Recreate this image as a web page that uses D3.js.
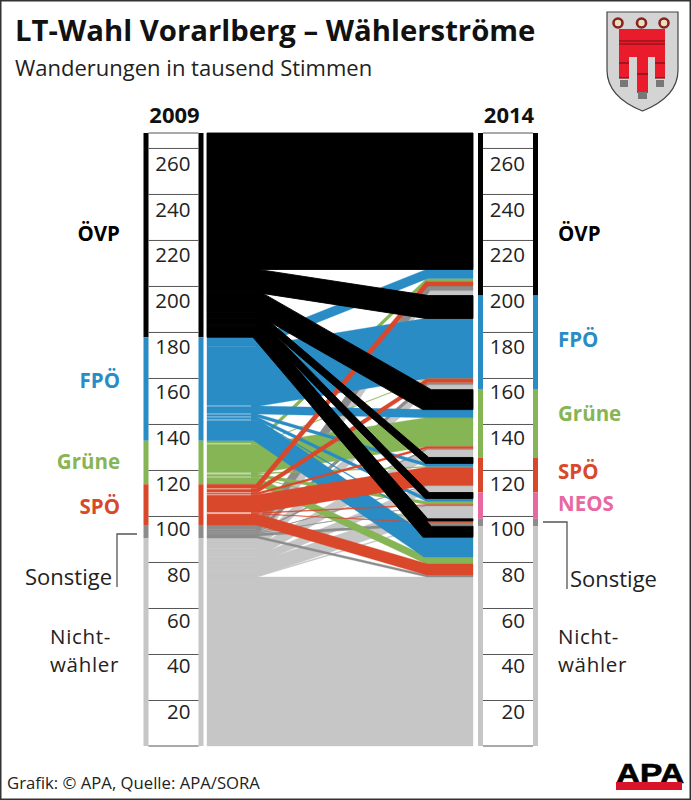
<!DOCTYPE html>
<html><head><meta charset="utf-8">
<script src="https://cdn.jsdelivr.net/npm/d3@7"></script>
<style>html,body{margin:0;background:#fff}svg{display:block}text{font-family:"Open Sans",sans-serif}</style>
</head><body><svg id="c" width="691" height="800"></svg>
<script>
const sources = ["ÖVP","FPÖ","Grüne","SPÖ","Sonstige","Nichtwähler"];
const targets = ["ÖVP","FPÖ","Grüne","SPÖ","NEOS","Sonstige","Nichtwähler"];
const fromOVP   = [59.6,10.0,8.7,2.6,2.6,0.9,4.8];
const fromFPO   = [3.9,26.1,3.5,1.3,1.3,0.4,8.7];
const fromGrune = [1.3,0.2,12.6,0.4,1.3,0.2,3.0];
const fromSPO   = [2.0,1.7,0.9,7.8,0.4,0.2,4.8];
const fromSonst = [2.0,0.9,0.4,0.2,0.2,1.1,0.9];
const fromNicht = [2.2,2.2,3.5,3.0,5.7,0.4,73.8];
const matrix = [fromOVP,fromFPO,fromGrune,fromSPO,fromSonst,fromNicht];
const tickValues = [20,40,60,80,100,120,140,160,180,200,220,240,260];
const colors = {"ÖVP":"#000000","FPÖ":"#2a8cc4","Grüne":"#86b556","SPÖ":"#d9482b","NEOS":"#e868a2","Sonstige":"#8c8c8c","Nichtwähler":"#c6c6c6"};
const drawOrder = ["Nichtwähler","Sonstige","Grüne","FPÖ","SPÖ","ÖVP"];

const svg = d3.select("#c");
const y = d3.scaleLinear().domain([0,266.5]).range([746,133]);
const total = d3.sum(matrix,r=>d3.sum(r));
const yT = v => y(266.5 * v / total);

const flows=[];
let cum=total;
const leftRanges=sources.map((s,i)=>{const t=cum;matrix[i].forEach((v,j)=>{flows.push({s:i,t:j,v,y0:cum,y1:cum-v});cum-=v});return {k:s,top:t,bot:cum}});
cum=total;
const rightRanges=targets.map((s,j)=>{const t=cum;sources.forEach((_,i)=>{const f=flows.find(f=>f.s===i&&f.t===j);f.r0=cum;f.r1=cum-f.v;cum-=f.v});return {k:s,top:t,bot:cum}});

svg.append("rect").attr("x",0.75).attr("y",0.75).attr("width",689.5).attr("height",798.5).attr("fill","#fff").attr("stroke","#333").attr("stroke-width",1.5);

svg.append("text").attr("x",15).attr("y",41).attr("font-size",29.3).attr("font-weight",700).attr("fill","#111").text("LT-Wahl Vorarlberg – Wählerströme");
svg.append("text").attr("x",15).attr("y",76).attr("font-size",22).attr("fill","#222").text("Wanderungen in tausend Stimmen");

const xs=[207,257,427,473];
const g=svg.append("g");
function bandPath(f){
  const L0=yT(f.y0),L1=yT(f.y1),R0=yT(f.r0),R1=yT(f.r1);
  const w=R1-R0, dy=R0-L0, dx=xs[2]-xs[1];
  const theta=Math.atan(Math.abs(dy)/dx);
  const K=f.s===0?1.6:(f.s>=4?2.6:1);
  const s=(dy>=0?1:-1)*K*w/2*Math.tan(theta/2);
  return `M${xs[0]},${L0}L${xs[1]+s},${L0}L${xs[2]+s},${R0}L${xs[3]},${R0}L${xs[3]},${R1}L${xs[2]-s},${R1}L${xs[1]-s},${L1}L${xs[0]},${L1}Z`;
}
drawOrder.forEach(name=>{
  const i=sources.indexOf(name);
  g.selectAll(null).data(flows.filter(f=>f.s===i)).enter().append("path")
   .attr("fill",colors[name])
   .attr("stroke",colors[name]).attr("stroke-width",name==="ÖVP"?0.9:0.35)
   .attr("d",bandPath);
});
// pale seams between the outgoing bands of the middle parties
g.selectAll(null).data(flows.filter(f=>f.s>=1&&f.s<=3&&f.t<6&&f.t!==5&&!(f.s===1&&f.t===0)&&f.v>=0.3)).enter().append("line")
  .attr("x1",xs[0]).attr("x2",xs[1]-6).attr("y1",f=>yT(f.y1)).attr("y2",f=>yT(f.y1))
  .attr("stroke","#fff").attr("stroke-opacity",0.7).attr("stroke-width",0.8);

function column(x0,ranges,label){
  const w=5,inner=50;
  [x0,x0+w+inner].forEach(x=>{
    svg.selectAll(null).data(ranges).enter().append("rect")
      .attr("x",x).attr("width",w).attr("y",d=>yT(d.top)).attr("height",d=>yT(d.bot)-yT(d.top)).attr("fill",d=>colors[d.k]);
  });
  const ax=svg.append("g").attr("transform",`translate(${x0+w},0)`)
    .call(d3.axisRight(y).tickValues(tickValues).tickSize(inner).tickFormat(d3.format("d")));
  ax.select(".domain").remove();
  ax.selectAll("line").attr("stroke","#555").attr("stroke-width",1);
  ax.selectAll("text").attr("x",42).attr("dy",d=>18.2+d*0.0167).attr("text-anchor","end").attr("font-size",20.5).attr("fill","#222").style("font-family",'"Open Sans",sans-serif');
  [133,746].forEach(v=>svg.append("line").attr("x1",x0+w).attr("x2",x0+w+inner).attr("y1",v).attr("y2",v).attr("stroke","#555"));
  svg.append("text").attr("x",x0+w+inner/2+1).attr("y",123).attr("text-anchor","middle").attr("font-size",22).attr("font-weight",700).attr("fill","#111").text(label);
}
column(143.5,leftRanges,"2009");
column(478,rightRanges,"2014");

const leftLabels=[["ÖVP",120,241,"ÖVP"],["FPÖ",120,388,"FPÖ"],["Grüne",120,469,"Grüne"],["SPÖ",120,514,"SPÖ"]];
const rightLabels=[["ÖVP",558,241,"ÖVP"],["FPÖ",558,347,"FPÖ"],["Grüne",558,421,"Grüne"],["SPÖ",558,479,"SPÖ"],["NEOS",558,511,"NEOS"]];
svg.selectAll(null).data(leftLabels).enter().append("text").attr("x",d=>d[1]).attr("y",d=>d[2]).attr("text-anchor","end").attr("font-size",20.5).attr("font-weight",700).attr("fill",d=>colors[d[0]]).text(d=>d[3]);
svg.selectAll(null).data(rightLabels).enter().append("text").attr("x",d=>d[1]).attr("y",d=>d[2]).attr("font-size",20.5).attr("font-weight",700).attr("fill",d=>colors[d[0]]).text(d=>d[3]);
const plain=[["Sonstige",112,585,"end"],["Sonstige",570,587,"start"]];
svg.selectAll(null).data(plain).enter().append("text").attr("x",d=>d[1]).attr("y",d=>d[2]).attr("text-anchor",d=>d[3]).attr("font-size",22).attr("fill","#222").text(d=>d[0]);
[50,558].forEach(x=>{
  svg.append("text").attr("x",x).attr("y",643.5).attr("font-size",20.5).attr("letter-spacing",0.7).attr("fill","#222").text("Nicht-");
  svg.append("text").attr("x",x).attr("y",671.5).attr("font-size",20.5).attr("letter-spacing",0.7).attr("fill","#222").text("wähler");
});
svg.append("path").attr("d","M137,534H117V587").attr("fill","none").attr("stroke","#555").attr("stroke-width",1.3);
svg.append("path").attr("d","M543,522H567V589").attr("fill","none").attr("stroke","#555").attr("stroke-width",1.3);

svg.append("text").attr("x",7).attr("y",789).attr("font-size",16.7).attr("fill","#222").text("Grafik: © APA, Quelle: APA/SORA");
const logo=svg.append("g");
logo.append("text").attr("x",616).attr("y",783).attr("textLength",68).attr("lengthAdjust","spacingAndGlyphs").attr("font-size",28).attr("font-weight",700).attr("stroke","#000").attr("stroke-width",0.7).attr("fill","#000").style("font-family",'"Liberation Sans",sans-serif').text("APA");
logo.append("rect").attr("x",616).attr("y",782).attr("width",66).attr("height",8).attr("fill","#d8142a");

const a=svg.append("g").attr("transform","translate(590,0)");
a.append("path").attr("d","M17,12H88V70C88,92 70,104 52.5,111C35,104 17,92 17,70Z").attr("fill","#d4d4d4").attr("stroke","#444").attr("stroke-width",1.2);
a.append("path").attr("d","M29,29H75V78H65V57H58V93H47V57H39V78H29Z").attr("fill","#ea1c2c");
[[29,75,41],[29,75,44],[29,39,63],[65,75,63],[47,58,74],[29,39,78],[65,75,78]].forEach(d=>a.append("line").attr("x1",d[0]).attr("x2",d[1]).attr("y1",d[2]).attr("y2",d[2]).attr("stroke","#6a1018").attr("stroke-width",1.2));
[[29,39,81],[65,75,81],[47,58,93]].forEach(d=>a.append("rect").attr("x",d[0]+1).attr("width",d[1]-d[0]-2).attr("y",d[2]-1).attr("height",7).attr("fill","#777"));
[29,52.5,75].forEach(cx=>a.append("circle").attr("cx",cx-1).attr("cy",23).attr("r",4.5).attr("fill","#e9e0c0").attr("stroke","#8a2020").attr("stroke-width",2.6));
</script></body></html>
